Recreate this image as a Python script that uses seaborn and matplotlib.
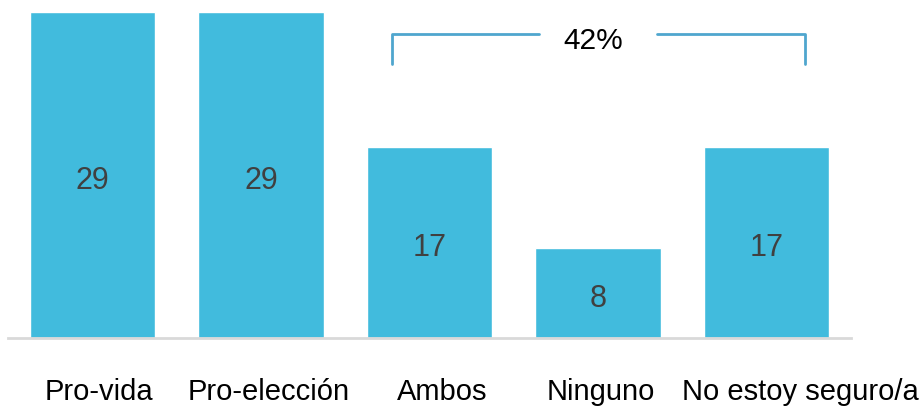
import matplotlib
matplotlib.use("Agg")
import matplotlib.pyplot as plt
import matplotlib.transforms as mtransforms
import seaborn as sns
import pandas as pd

categories = ["Pro-vida", "Pro-elección", "Ambos", "Ninguno", "No estoy seguro/a"]
values = [29, 29, 17, 8, 17]
bracket_label = "42%"

# small horizontal nudges (in pixels) of the category labels, as in the original
label_nudge_px = [6.5, 7.5, 12.5, 3, 34]

bar_color = "#41BBDD"
bracket_color = "#4FA6CE"

sns.set_theme(style="white")
plt.rcParams["font.family"] = ["Liberation Sans", "DejaVu Sans"]

df = pd.DataFrame({"categoria": categories, "valor": values})

fig = plt.figure(figsize=(9.24, 4.09), dpi=100)
ax = fig.add_axes([8 / 924, 71 / 409, 843 / 924, 338 / 409])
sns.barplot(data=df, x="categoria", y="valor", color=bar_color, width=0.743,
            saturation=1, ax=ax)

ax.set_xlim(-0.5, 4.5)
ax.set_ylim(0, 30.07)
for s in ["top", "right", "left"]:
    ax.spines[s].set_visible(False)
ax.spines["bottom"].set_color("#D9D9D9")
ax.spines["bottom"].set_linewidth(2)
ax.set_yticks([])
ax.set_xticks([])
ax.set_xlabel("")
ax.set_ylabel("")

# category labels under the axis
for i, (cat, dx) in enumerate(zip(categories, label_nudge_px)):
    tr = mtransforms.offset_copy(
        mtransforms.blended_transform_factory(ax.transData, ax.transAxes),
        fig=fig, x=dx, y=0, units="dots")
    ax.text(i, -62 / 338, cat, ha="center", va="baseline", fontsize=21,
            color="black", transform=tr, clip_on=False)

# value labels centered inside each bar
val_tr = mtransforms.offset_copy(ax.transData, fig=fig, x=0, y=-13.5,
                                 units="dots")
for i, v in enumerate(values):
    ax.text(i, v / 2, str(v), ha="center", va="baseline", fontsize=22,
            color="#404040", transform=val_tr)

# bracket over Ambos .. No estoy seguro/a
x0, x1 = 2 - 0.22, 4 + 0.23
y_top, y_bot = 27.05, 24.35
xm = 2.972
ax.plot([x0, x0, xm - 0.324], [y_bot, y_top, y_top], color=bracket_color,
        lw=2, clip_on=False)
ax.plot([xm + 0.377, x1, x1], [y_top, y_top, y_bot], color=bracket_color,
        lw=2, clip_on=False)
ax.text(xm, 25.71, bracket_label, ha="center", va="baseline", fontsize=21.5,
        color="black")

fig.savefig("out.png", dpi=100)
